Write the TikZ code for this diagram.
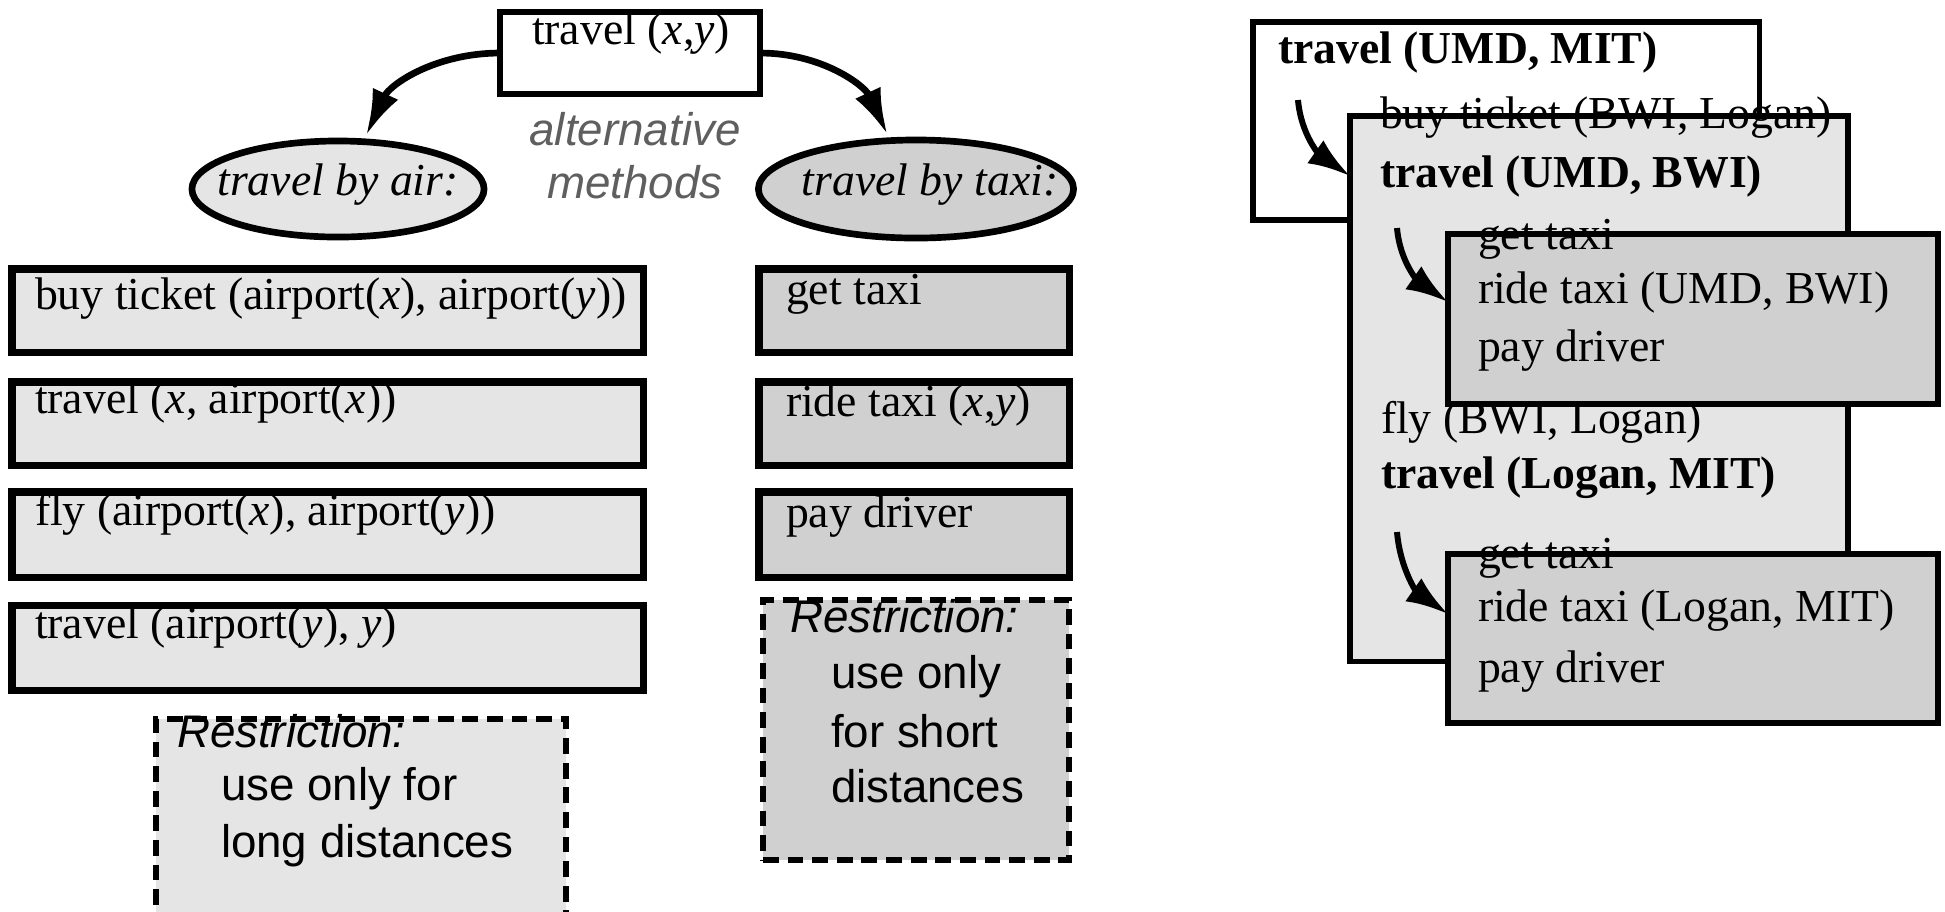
\documentclass[tikz,border=0pt]{standalone}
\usepackage{fontspec}
\setmainfont{Liberation Serif}
\setsansfont{Liberation Sans}
\usetikzlibrary{arrows.meta,shapes.geometric,calc}

\definecolor{airfill}{RGB}{229,229,229}
\definecolor{taxifill}{RGB}{208,208,208}
\definecolor{notegray}{RGB}{95,95,95}

\newcommand{\planfont}{\fontsize{13}{16}\selectfont}

\tikzset{
	every node/.style={font=\planfont, inner sep=0pt, outer sep=0pt},
	line/.style={anchor=base west},
	frame/.style={draw, line width=1.6pt, anchor=north west},
	airbox/.style={draw, line width=2pt, fill=airfill, anchor=north west},
	taxibox/.style={draw, line width=2pt, fill=taxifill, anchor=north west},
	method/.style={draw, ellipse, line width=1.9pt},
	restrict/.style={draw, dash pattern=on 4.5pt off 2.5pt, line width=1.8pt, anchor=north west},
	note/.style={anchor=base west, font=\planfont\sffamily},
	bigarrow/.style={line width=1.9pt, -{Latex[length=13pt,width=8pt]}},
	smallarrow/.style={line width=1.7pt, -{Latex[length=12pt,width=8pt]}}
}

\begin{document}
\begin{tikzpicture}[x=0.01cm, y=0.01cm]
		\useasboundingbox (0,0) rectangle (1945,-911);
		\clip (0,0) rectangle (1945,-911);
		% Task and its two methods
		\node[draw, line width=1.8pt, fill=white, minimum width=2.6cm, minimum height=0.82cm, anchor=north west] (top) at (500,-12) {};
		\node[anchor=base] (topt) at (631,-44) {travel (\textit{x},\textit{y})};
		\node[method, fill=airfill, minimum width=2.92cm, minimum height=0.96cm,
			label={[name=airt, yshift=0.04cm]center:\textit{travel by air:}}] (air) at (338,-189) {};
		\node[method, fill=taxifill, minimum width=3.15cm, minimum height=0.98cm,
			label={[name=taxit, xshift=0.14cm, yshift=0.04cm]center:\textit{travel by taxi:}}] (taxi) at (916,-189) {};
		\node[anchor=base, font=\planfont\sffamily\itshape, text=notegray] (alt1) at (635,-145) {alternative};
		\node[anchor=base, font=\planfont\sffamily\itshape, text=notegray] (alt2) at (635,-198) {methods};
		\draw[bigarrow, shorten >=2pt] (top.west) to[out=180,in=65] (air.62);
		\draw[bigarrow, shorten >=2pt] (top.east) to[out=0,in=115] (taxi.118);
		
		% Subtasks by air
		\node[airbox, minimum width=6.31cm, minimum height=0.83cm] (a1) at (12,-269) {};
		\node[airbox, minimum width=6.31cm, minimum height=0.83cm] (a2) at (12,-382) {};
		\node[airbox, minimum width=6.31cm, minimum height=0.85cm] (a3) at (12,-492) {};
		\node[airbox, minimum width=6.31cm, minimum height=0.85cm] (a4) at (12,-605) {};
		\node[line] (a1t) at (35,-309) {buy ticket (airport(\textit{x}), airport(\textit{y}))};
		\node[line] (a2t) at (35,-413) {travel (\textit{x}, airport(\textit{x}))};
		\node[line] (a3t) at (35,-525) {fly (airport(\textit{x}), airport(\textit{y}))};
		\node[line] (a4t) at (35,-638) {travel (airport(\textit{y}), \textit{y})};
		\node[restrict, fill=airfill, minimum width=4.1cm, minimum height=2.4cm] (rair) at (156,-719) {};
		\node[note] (rair1) at (177,-747) {\itshape Restriction:};
		\node[note] (rair2) at (221,-800) {use only for};
		\node[note] (rair3) at (221,-857) {long distances};
		
		% Subtasks by taxi
		\node[taxibox, minimum width=3.1cm, minimum height=0.83cm] (t1) at (759,-269) {};
		\node[taxibox, minimum width=3.1cm, minimum height=0.83cm] (t2) at (759,-382) {};
		\node[taxibox, minimum width=3.1cm, minimum height=0.85cm] (t3) at (759,-492) {};
		\node[line] (t1t) at (786,-304) {get taxi};
		\node[line] (t2t) at (786,-416) {ride taxi (\textit{x},\textit{y})};
		\node[line] (t3t) at (786,-527) {pay driver};
		\node[restrict, fill=taxifill, minimum width=3.06cm, minimum height=2.6cm] (rtaxi) at (763,-600) {};
		\node[note] (rtaxi1) at (790,-632) {\itshape Restriction:};
		\node[note] (rtaxi2) at (831,-688) {use only};
		\node[note] (rtaxi3) at (831,-747) {for short};
		\node[note] (rtaxi4) at (831,-802) {distances};
		
		% Decomposition of travel (UMD, MIT)
		\node[frame, fill=white, minimum width=5.06cm, minimum height=1.98cm] (outer) at (1253,-22) {};
		\node[line] (o1) at (1278,-63) {\textbf{travel (UMD, MIT)}};
		\node[frame, fill=airfill, minimum width=4.98cm, minimum height=5.45cm] (mid) at (1350,-116) {};
		\coordinate (s1) at (1298,-100);
		\draw[smallarrow] (s1) to[out=-85,in=145] ([yshift=-0.6cm]mid.north west);
		\node[line] (m1) at (1380,-128) {buy ticket (BWI, Logan)};
		\node[line] (m2) at (1380,-187) {\textbf{travel (UMD, BWI)}};
		\node[frame, fill=taxifill, minimum width=4.9cm, minimum height=1.7cm] (ride1) at (1448,-234) {};
		\coordinate (s2) at (1397,-228);
		\draw[smallarrow] (s2) to[out=-85,in=145] ([yshift=-0.68cm]ride1.north west);
		\node[line] (r1a) at (1478,-249) {get taxi};
		\node[line] (r1b) at (1478,-303) {ride taxi (UMD, BWI)};
		\node[line] (r1c) at (1478,-361) {pay driver};
		\node[line] (m3) at (1381,-433) {fly (BWI, Logan)};
		\node[line] (m4) at (1381,-488) {\textbf{travel (Logan, MIT)}};
		\node[frame, fill=taxifill, minimum width=4.9cm, minimum height=1.69cm] (ride2) at (1448,-554) {};
		\coordinate (s3) at (1397,-532);
		\draw[smallarrow] (s3) to[out=-85,in=145] ([yshift=-0.6cm]ride2.north west);
		\node[line] (r2a) at (1478,-568) {get taxi};
		\node[line] (r2b) at (1478,-621) {ride taxi (Logan, MIT)};
		\node[line] (r2c) at (1478,-682) {pay driver};
	\end{tikzpicture}
\end{document}
